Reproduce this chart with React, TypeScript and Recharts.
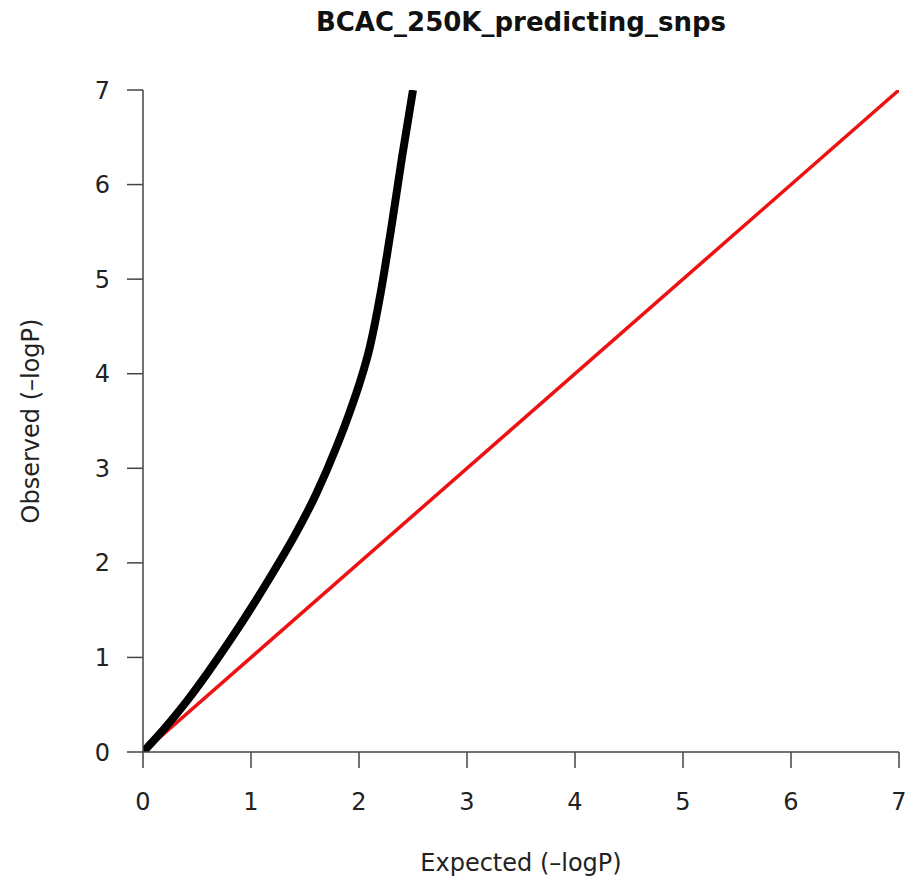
import React from 'react';
import { LineChart, Line, XAxis, YAxis } from 'recharts';

// QQ plot: expected vs observed -log10(P)
const expectedP = [0, 0.2, 0.4, 0.6, 0.8, 1.0, 1.2, 1.4, 1.6, 1.8, 1.9, 2.0, 2.1, 2.2, 2.3, 2.4, 2.5];
const observedP = [0, 0.25, 0.53, 0.84, 1.17, 1.52, 1.89, 2.28, 2.72, 3.25, 3.55, 3.88, 4.28, 4.85, 5.55, 6.3, 7.0];

const nullLineX = [0, 7];
const nullLineY = [0, 7];

const axisTicks = [0, 1, 2, 3, 4, 5, 6, 7];

const title = 'BCAC_250K_predicting_snps';
const xTitle = 'Expected (\u2013logP)';
const yTitle = 'Observed (\u2013logP)';

const FONT = '"DejaVu Sans", "Liberation Sans", Arial, sans-serif';
const AXIS_COLOR = '#444';

const qqData = expectedP.map((e, i) => ({ exp: e, obs: observedP[i] }));
const nullData = nullLineX.map((e, i) => ({ exp: e, obs: nullLineY[i] }));

const YTitle = (props: any) => {
  const vb = props.viewBox || { x: 0, y: 90, width: 143, height: 662 };
  const cy = vb.y + vb.height / 2;
  const x = 39;
  return (
    <text
      x={x}
      y={cy}
      textAnchor="middle"
      transform={`rotate(-90 ${x} ${cy})`}
      fontFamily={FONT}
      fontSize={24}
      fill="#222"
    >
      {yTitle}
    </text>
  );
};

const App: React.FC = () => {
  return (
    <div style={{ position: 'absolute', left: 0, top: 0, width: 912, height: 886, background: '#fff' }}>
      <div
        style={{
          position: 'absolute',
          left: 143,
          width: 756,
          top: 9,
          textAlign: 'center',
          fontFamily: FONT,
          fontWeight: 'bold',
          fontSize: 26,
          lineHeight: '26px',
          color: '#111'
        }}
      >
        {title}
      </div>
      <LineChart width={912} height={886} margin={{ top: 90, right: 13, left: 0, bottom: 0 }}>
        <XAxis
          type="number"
          dataKey="exp"
          domain={[0, 7]}
          ticks={axisTicks}
          allowDataOverflow
          height={134}
          stroke={AXIS_COLOR}
          strokeWidth={1.5}
          tickSize={16}
          tickMargin={25}
          tick={{ fill: '#222', fontSize: 24, fontFamily: FONT }}
          label={{ value: xTitle, position: 'insideBottom', offset: 15, fill: '#222', fontSize: 24, fontFamily: FONT }}
        />
        <YAxis
          type="number"
          dataKey="obs"
          domain={[0, 7]}
          ticks={axisTicks}
          allowDataOverflow
          width={143}
          stroke={AXIS_COLOR}
          strokeWidth={1.5}
          tickSize={16}
          tickMargin={17}
          tick={{ fill: '#222', fontSize: 24, fontFamily: FONT }}
          label={<YTitle />}
        />
        <Line
          data={nullData}
          dataKey="obs"
          type="linear"
          stroke="#ee1111"
          strokeWidth={3.5}
          dot={false}
          isAnimationActive={false}
        />
        <Line
          data={qqData}
          dataKey="obs"
          type="monotone"
          stroke="#000"
          strokeWidth={8}
          dot={false}
          isAnimationActive={false}
        />
      </LineChart>
    </div>
  );
};

export default App;
